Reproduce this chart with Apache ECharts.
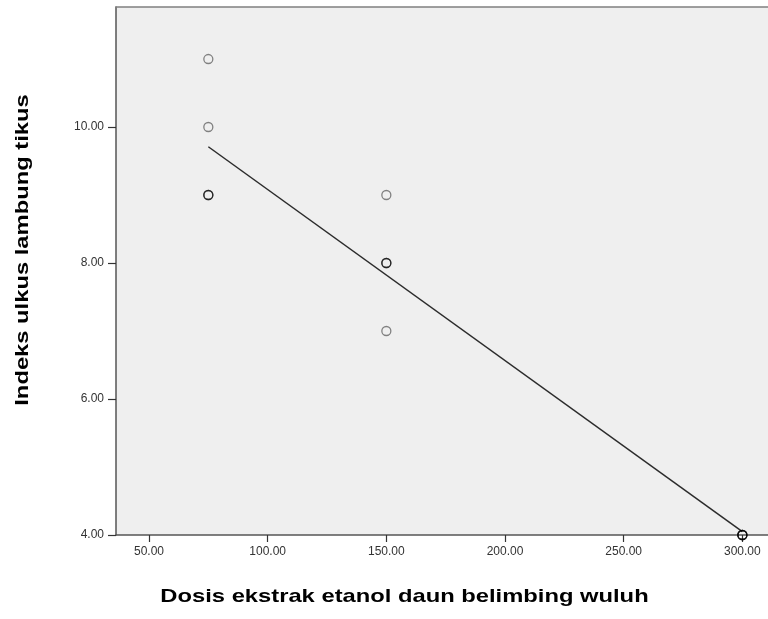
<!DOCTYPE html>
<html>
<head>
<meta charset="utf-8">
<script src="https://cdn.jsdelivr.net/npm/echarts@6/dist/echarts.min.js"></script>
<style>
html,body{margin:0;padding:0;background:#fff;}
#chart{width:768px;height:619px;}
</style>
</head>
<body>
<div id="chart"></div>
<script>
// Observed data (dose, ulcer index)
const doseValues = [75, 75, 75, 75, 75, 150, 150, 150, 150, 150, 300, 300, 300, 300, 300];
const ulcerValues = [11, 10, 9, 9, 9, 9, 8, 8, 8, 7, 4, 4, 4, 4, 4];
// Fit line endpoints
const fitX = [75, 300];
const fitY = [9.71, 4.05];
// Tick values
const xTicks = [50, 100, 150, 200, 250, 300];
const yTicks = [4, 6, 8, 10];
const xTitle = 'Dosis ekstrak etanol daun belimbing wuluh';
const yTitle = 'Indeks ulkus lambung tikus';

const chart = echarts.init(document.getElementById('chart'));
const font = 'Liberation Sans, Arial, sans-serif';
const X_MIN = 36.1, X_MAX = 310.8;

chart.setOption({
  animation: false,
  backgroundColor: '#ffffff',
  grid: {
    left: 116, top: 7, bottom: 84, right: 0,
    show: true, backgroundColor: '#efefef', borderWidth: 0
  },
  xAxis: [{
    type: 'value', min: X_MIN, max: X_MAX,
    splitLine: { show: false },
    axisLine: { lineStyle: { color: '#555', width: 1.5 } },
    axisTick: { length: 7, lineStyle: { color: '#333', width: 1.2 }, customValues: xTicks },
    axisLabel: { customValues: xTicks, margin: 11, fontFamily: font, fontSize: 12, color: '#333',
      formatter: v => v.toFixed(2) }
  }, {
    type: 'value', min: X_MIN, max: X_MAX, position: 'top',
    splitLine: { show: false },
    axisLine: { lineStyle: { color: '#808080', width: 1.5 } },
    axisTick: { show: false },
    axisLabel: { show: false }
  }],
  yAxis: {
    type: 'value', min: 4, max: 11.765,
    splitLine: { show: false },
    axisLine: { lineStyle: { color: '#555', width: 1.5 } },
    axisTick: { length: 8, lineStyle: { color: '#333', width: 1.2 }, customValues: yTicks },
    axisLabel: { customValues: yTicks, margin: 12, fontFamily: font, fontSize: 12, color: '#333',
      formatter: v => v.toFixed(2) }
  },
  graphic: [{
    type: 'text', x: 404.5, y: 597, scaleX: 1.25,
    style: { text: xTitle, font: 'bold 19px ' + font, fill: '#000',
      align: 'center', verticalAlign: 'middle', textAlign: 'center', textVerticalAlign: 'middle' }
  }, {
    type: 'text', x: 22.5, y: 250, scaleX: 1.25, rotation: Math.PI / 2,
    style: { text: yTitle, font: 'bold 19px ' + font, fill: '#000',
      align: 'center', verticalAlign: 'middle', textAlign: 'center', textVerticalAlign: 'middle' }
  }],
  series: [
    {
      type: 'line',
      data: fitX.map((x, i) => [x, fitY[i]]),
      symbol: 'none',
      lineStyle: { color: '#2b2b2b', width: 1.5 },
      z: 2
    },
    {
      type: 'scatter',
      data: doseValues.map((x, i) => [x, ulcerValues[i]]),
      symbol: 'circle', symbolSize: 9,
      itemStyle: { color: 'transparent', borderColor: 'rgba(0,0,0,0.58)', borderWidth: 1.3 },
      z: 3
    }
  ]
});
</script>
</body>
</html>
